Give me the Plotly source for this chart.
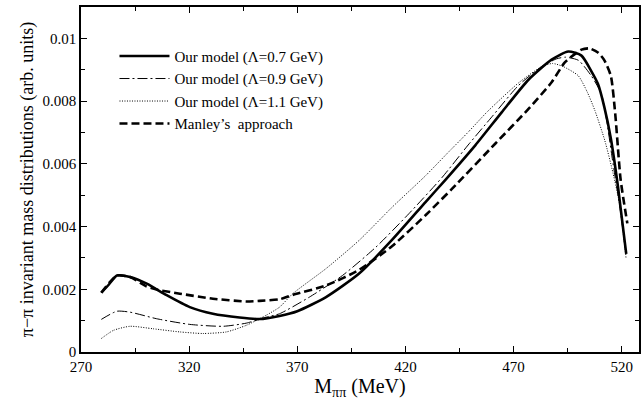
import plotly.graph_objects as go

# Λ = 0.7 GeV (solid)
x_07 = [279.4, 283.0, 286.6, 292.7, 300.4, 309.6, 320.3, 331.0, 343.3, 352.5, 361.8, 370.0,
        383.3, 398.6, 413.9, 429.3, 438.5, 452.3, 464.6, 476.9, 487.6, 495.3, 501.4,
        506.0, 509.0, 512.0, 515.0, 518.3, 522.1]
y_07 = [0.00189, 0.00216, 0.00244, 0.00239, 0.00218, 0.00181, 0.00143, 0.00122, 0.00110, 0.00105, 0.00115, 0.00130,
        0.00175, 0.00250, 0.00358, 0.00478, 0.00549, 0.00659, 0.00765, 0.00868, 0.00932, 0.00958, 0.00945,
        0.00895, 0.00855, 0.00780, 0.00680, 0.00526, 0.00313]

# Λ = 0.9 GeV (dash-dot)
x_09 = [279.4, 286.6, 292.7, 305.0, 320.3, 335.7, 346.4, 355.6, 361.8, 375.6, 390.9, 406.3,
        421.6, 437.0, 449.0, 460.0, 472.3, 483.0, 490.0, 494.0, 500.0, 506.0, 510.6, 513.0, 516.0, 519.0, 522.0]
y_09 = [0.00104, 0.00130, 0.00127, 0.00106, 0.00088, 0.00082, 0.00092, 0.00111, 0.00122, 0.00175, 0.00244, 0.00334,
        0.00441, 0.00557, 0.00660, 0.00750, 0.00850, 0.00910, 0.00935, 0.00940, 0.00930, 0.00880, 0.00823, 0.00740,
        0.00600, 0.00470, 0.00310]

# Λ = 1.1 GeV (dotted)
x_11 = [279.4, 285.0, 292.7, 303.4, 315.7, 326.4, 337.2, 346.4, 355.6, 361.8, 367.9, 383.3,
        398.6, 413.9, 429.3, 440.0, 449.3, 457.7, 472.3, 483.0, 488.0, 493.0, 499.9, 504.0,
        507.6, 512.2, 516.0, 519.1, 522.0]
y_11 = [0.00043, 0.00069, 0.00082, 0.00074, 0.00064, 0.00059, 0.00064, 0.00085, 0.00117, 0.00143, 0.00186, 0.00266,
        0.00356, 0.00462, 0.00562, 0.00638, 0.00703, 0.00765, 0.00858, 0.00910, 0.00920, 0.00910, 0.00881, 0.00830,
        0.00770, 0.00674, 0.00570, 0.00470, 0.00300]

# Manley's approach (dashed)
x_m = [279.4, 286.6, 292.7, 300.0, 305.0, 315.7, 331.0, 346.4, 352.6, 361.8, 367.9, 383.3,
       398.6, 413.9, 429.3, 441.5, 461.5, 476.9, 487.6, 493.8, 501.4, 505.0, 509.0, 512.0,
       515.0, 517.0, 519.5, 522.6]
y_m = [0.00189, 0.00244, 0.00239, 0.00210, 0.00199, 0.00186, 0.00170, 0.00161, 0.00163, 0.00168, 0.00182, 0.00212,
       0.00262, 0.00338, 0.00436, 0.00520, 0.00664, 0.00775, 0.00860, 0.00924, 0.00964, 0.00968, 0.00955, 0.00930,
       0.00880, 0.00760, 0.00550, 0.00410]

names = ["Our model (Λ=0.7 GeV)", "Our model (Λ=0.9 GeV)", "Our model (Λ=1.1 GeV)", "Manley’s  approach"]

x_ticks = [270, 320, 370, 420, 470, 520]
y_ticks = [0, 0.002, 0.004, 0.006, 0.008, 0.01]
y_tick_text = ["0", "0.002", "0.004", "0.006", "0.008", "0.01"]

FONT = "Liberation Serif"

fig = go.Figure()
fig.add_trace(go.Scatter(x=x_07, y=y_07, mode="lines", name=names[0],
                         line=dict(color="black", width=2.6, shape="spline", smoothing=0.6)))
fig.add_trace(go.Scatter(x=x_09, y=y_09, mode="lines", name=names[1],
                         line=dict(color="black", width=1, dash="10px,3px,2px,3px", shape="spline", smoothing=0.6)))
fig.add_trace(go.Scatter(x=x_11, y=y_11, mode="lines", name=names[2],
                         line=dict(color="black", width=1, dash="1px,1.5px", shape="spline", smoothing=0.6)))
fig.add_trace(go.Scatter(x=x_m, y=y_m, mode="lines", name=names[3],
                         line=dict(color="black", width=2.6, dash="8px,4px", shape="spline", smoothing=0.6)))

fig.update_layout(
    width=642, height=405,
    margin=dict(l=81, r=1, t=7, b=53),
    paper_bgcolor="white", plot_bgcolor="white",
    font=dict(family=FONT, color="black", size=15),
    showlegend=True,
    legend=dict(x=0.06, y=0.905, xanchor="left", yanchor="top",
                bgcolor="rgba(0,0,0,0)", font=dict(family=FONT, size=15),
                itemwidth=50, tracegroupgap=0),
    xaxis=dict(range=[270, 528], tickvals=x_ticks, ticks="inside", ticklen=6,
               tickwidth=1, tickcolor="black", showline=True, linecolor="black",
               linewidth=1.5, mirror="ticks", showgrid=False, zeroline=False,
               tickfont=dict(family=FONT, size=15),
               minor=dict(ticks="inside", ticklen=4, tickcolor="black", dtick=25, tick0=270, showgrid=False),
               title=dict(text="M<sub>ππ</sub> (MeV)", font=dict(family=FONT, size=20), standoff=4)),
    yaxis=dict(range=[0, 0.011], tickvals=y_ticks, ticktext=y_tick_text, ticks="inside", ticklen=6,
               tickwidth=1, tickcolor="black", showline=True, linecolor="black",
               linewidth=1.5, mirror="ticks", showgrid=False, zeroline=False,
               tickfont=dict(family=FONT, size=15),
               minor=dict(ticks="inside", ticklen=4, tickcolor="black", dtick=0.001, tick0=0, showgrid=False),
               title=dict(text="π−π invariant mass distributions (arb. units)",
                          font=dict(family=FONT, size=18), standoff=4)),
)

fig.write_html("out.html")
